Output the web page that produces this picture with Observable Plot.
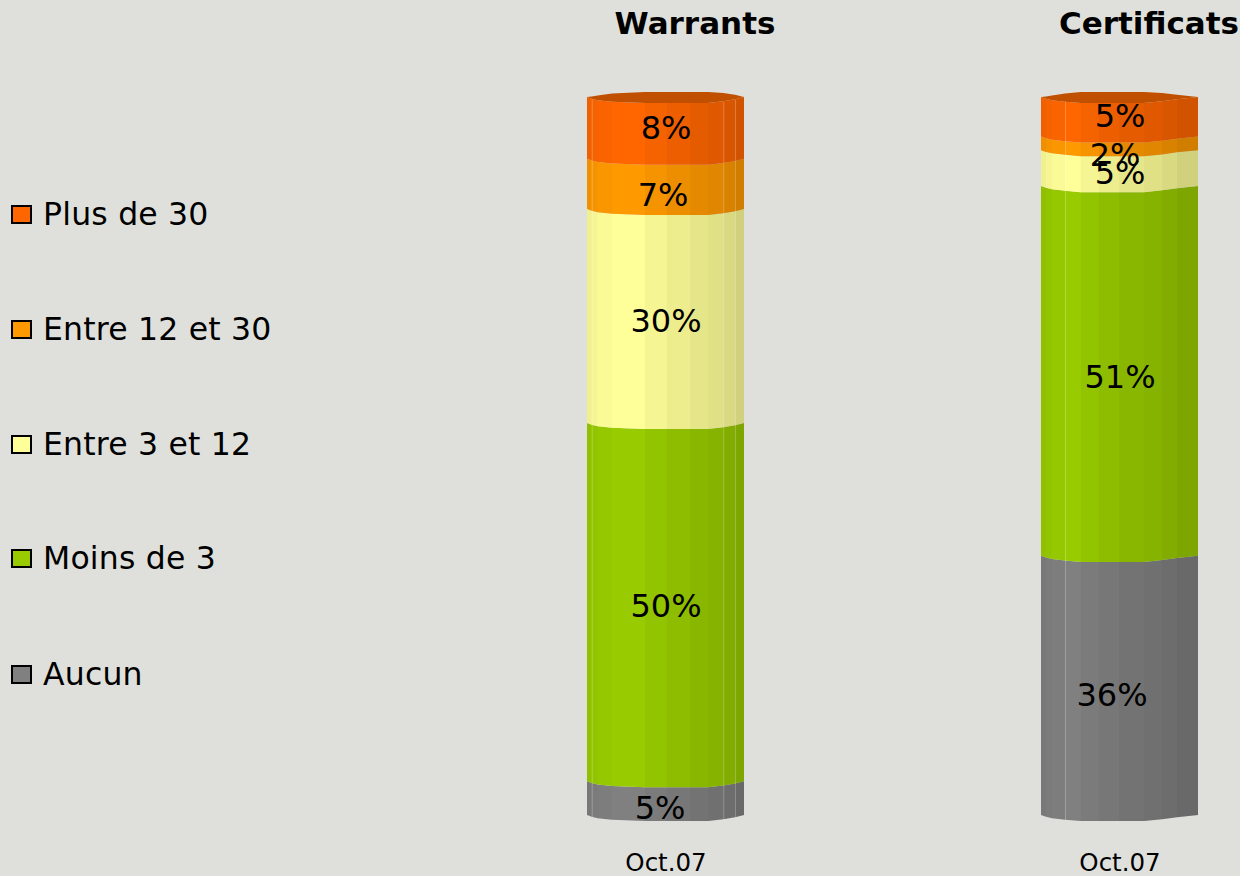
<!DOCTYPE html>
<html>
<head>
<meta charset="utf-8">
<style>
  html, body { margin: 0; padding: 0; background: #dfe0db; width: 1240px; height: 876px; overflow: hidden; }
  #chart { position: absolute; left: 0; top: 0; }
  #chart svg { background: transparent; display: block; }
  #legend { position: absolute; left: 0; top: 0; font-family: "DejaVu Sans", sans-serif; font-size: 31.5px; letter-spacing: .2px; color: #000; }
  .item { position: absolute; left: 11px; white-space: nowrap; display: flex; align-items: center; height: 40px; transform: translateY(-20px); }
  .swatch { width: 17px; height: 15px; border: 2.5px solid #000; margin-right: 11px; flex: none; }
</style>
<script src="https://cdn.jsdelivr.net/npm/d3@7"></script>
<script src="https://cdn.jsdelivr.net/npm/@observablehq/plot@0.6"></script>
</head>
<body>
<div id="chart"></div>
<div id="legend"></div>
<script>
// Data, bottom of the stack first
const series = ["Aucun", "Moins de 3", "Entre 3 et 12", "Entre 12 et 30", "Plus de 30"];
const colors = ["#808080", "#99cc00", "#ffff99", "#ff9900", "#ff6600"];
const bars = ["Warrants", "Certificats"];
const period = "Oct.07";
const warrants = [4.7, 49.9, 29.8, 7.0, 8.6];
const certificats = [36.1, 51.5, 5.0, 1.9, 5.5];
const warrantsLabels = ["5%", "50%", "30%", "7%", "8%"];
const certificatsLabels = ["36%", "51%", "5%", "2%", "5%"];

// Faceted "3D" look of the cylinder
const warrantsEdges = [0, .03, .068, .159, .369, .508, .656, .771, .868, .943, 1];
const certificatsEdges = [0, .032, .07, .153, .253, .369, .497, .656, .771, .866, 1];
const frontSag = [0, .25, .45, .65, .85, .85, .85, .85, .6, .3, 0];
const backRise = [0, .08, .2, .5, .7, .7, .7, .7, .55, .3, 0];
const stripShade = [.06, .04, .02, 0, .04, .07, .1, .12, .15, .18];
const warrantsGlints = [1, 8, 9];
const certificatsGlints = [3];
const labelNudge = {
  Warrants: [[-6, 10], [0, 4], [0, 5], [-3, 11], [0, 0]],
  Certificats: [[-8, 10], [0, 6], [0, 5], [-5, 12], [0, 0]]
};
const capColor = "#c05000";

const table = [
  {bar: bars[0], values: warrants, labels: warrantsLabels, edges: warrantsEdges, glints: warrantsGlints},
  {bar: bars[1], values: certificats, labels: certificatsLabels, edges: certificatsEdges, glints: certificatsGlints}
];

const segments = [], strips = [], caps = [], labels = [], glints = [];
for (const {bar, values, labels: texts, edges, glints: marks} of table) {
  let base = 0;
  values.forEach((v, s) => {
    const top = base + v;
    edges.forEach((x, i) => {
      segments.push({bar, series: series[s], key: bar + s, x, y0: base - frontSag[i], y1: top - frontSag[i]});
      if (i < edges.length - 1) {
        for (const j of [i, i + 1]) {
          strips.push({bar, key: bar + s + "-" + i, x: edges[j], y0: base - frontSag[j], y1: top - frontSag[j], shade: stripShade[i]});
        }
      }
    });
    labels.push({bar, text: texts[s], x: .5, y: base + v / 2, dx: labelNudge[bar][s][0], dy: labelNudge[bar][s][1]});
    base = top;
  });
  edges.forEach((x, i) => caps.push({bar, x, y0: 100 - frontSag[i], y1: 100 + backRise[i]}));
  marks.forEach(i => glints.push({bar, x: edges[i], y0: -frontSag[i], y1: 100 - frontSag[i]}));
}

const font = '"DejaVu Sans", sans-serif';
const textMarks = labels.map(d => Plot.text([d], {
  fx: "bar", x: "x", y: "y", text: "text", dx: d.dx, dy: d.dy, fontSize: 32, fontFamily: font, fill: "#000"
}));

const chart = Plot.plot({
  width: 1240,
  height: 876,
  marginLeft: 587,
  marginRight: 41,
  marginTop: 97,
  marginBottom: 61,
  style: {background: "transparent", fontFamily: font},
  fx: {domain: bars, paddingInner: .654, paddingOuter: 0, axis: null, label: null},
  x: {domain: [0, 1], axis: null},
  y: {domain: [0, 100], axis: null},
  color: {domain: series, range: colors},
  opacity: {type: "identity"},
  marks: [
    Plot.area(segments, {fx: "bar", x1: "x", y1: "y0", y2: "y1", z: "key", fill: "series", curve: "linear"}),
    Plot.area(strips, {fx: "bar", x1: "x", y1: "y0", y2: "y1", z: "key", fill: "#000", fillOpacity: "shade", curve: "linear"}),
    Plot.link(glints, {fx: "bar", x1: "x", x2: "x", y1: "y0", y2: "y1", stroke: "#fff", strokeOpacity: .25, strokeWidth: 1}),
    Plot.area(caps, {fx: "bar", x1: "x", y1: "y0", y2: "y1", fill: capColor, curve: "linear"}),
    ...textMarks,
    Plot.text(bars, {fx: d => d, x: () => .5, y: () => 100, text: d => d, dx: 29, dy: -73, fontSize: 31, fontWeight: "bold", fontFamily: font, fill: "#000"}),
    Plot.text(bars, {fx: d => d, x: () => .5, y: () => 0, text: () => period, dy: 47.5, fontSize: 24.5, fontFamily: font, fill: "#000"})
  ]
});
document.getElementById("chart").append(chart);

// Legend, top entry first
const legendY = [214, 329, 444, 558, 674];
const legend = document.getElementById("legend");
[...series].reverse().forEach((name, i) => {
  const item = document.createElement("div");
  item.className = "item";
  item.style.top = legendY[i] + "px";
  const sw = document.createElement("span");
  sw.className = "swatch";
  sw.style.background = colors[series.length - 1 - i];
  item.append(sw, document.createTextNode(name));
  legend.append(item);
});
</script>
</body>
</html>
